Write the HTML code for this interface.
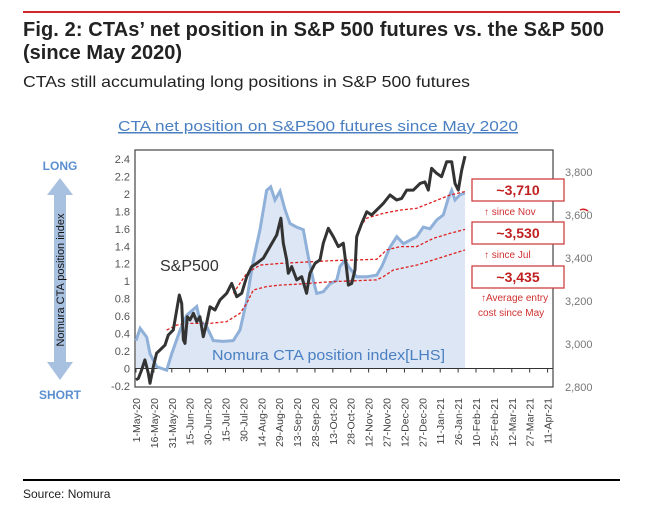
<!DOCTYPE html>
<html><head><meta charset="utf-8"><style>
body{margin:0;width:660px;height:500px;background:#fff;overflow:hidden;font-family:"Liberation Sans",sans-serif;}
</style></head><body>
<svg id="chart" width="660" height="500" xmlns="http://www.w3.org/2000/svg">
<line x1="23" y1="12" x2="620" y2="12" stroke="#d0262c" stroke-width="2"/>
<text x="23" y="36" font-size="20" font-weight="bold" fill="#222" textLength="581">Fig. 2: CTAs’ net position in S&amp;P 500 futures vs. the S&amp;P 500</text>
<text x="23" y="59" font-size="20" font-weight="bold" fill="#222">(since May 2020)</text>
<text x="23" y="87" font-size="16" fill="#222" textLength="447" lengthAdjust="spacingAndGlyphs">CTAs still accumulating long positions in S&amp;P 500 futures</text>
<text x="318" y="131" font-size="15" fill="#4a7fc1" text-anchor="middle" text-decoration="underline" textLength="400" lengthAdjust="spacingAndGlyphs">CTA net position on S&amp;P500 futures since May 2020</text>
<text x="60" y="170" font-size="12" font-weight="bold" fill="#5b8fd0" text-anchor="middle">LONG</text>
<text x="60" y="399" font-size="12" font-weight="bold" fill="#5b8fd0" text-anchor="middle">SHORT</text>
<polygon points="60,178 73,195 66,195 66,362 73,362 60,380 47,362 54,362 54,195 47,195" fill="#a9c1e0"/>
<text transform="translate(64,280) rotate(-90)" font-size="11" fill="#111" text-anchor="middle">Nomura CTA position index</text>
<line x1="23" y1="480" x2="620" y2="480" stroke="#000" stroke-width="2"/>
<text x="23" y="498" font-size="12" fill="#222">Source: Nomura</text>
<path d="M580 210 q4 -2 8 1" stroke="#d02020" stroke-width="1.5" fill="none"/>
<g id="plot"></g>
</svg>
<script>
const ctaDays=[0,3.4,9,11.7,17.4,25.7,29.9,37,42.5,50.9,53.6,59.3,64.8,73.2,81.6,87.2,92.8,98.3,103.9,109.5,112.9,116.5,120.7,124.9,129.1,134.7,140.2,144.4,148.6,151.5,157,162.6,168.2,171,175.2,178,185,193.4,201.8,206,212.9,218.6,224.1,229.7,235.3,240.8,246.4,252,257.6,261.8,264.6,267.4,271.6,275.8];
const ctaValues=[.32,.46,.36,.17,.02,-.02,.17,.44,.61,.71,.55,.48,.32,.31,.32,.44,.78,1.24,1.59,2.04,2.08,1.93,2.03,1.82,1.66,1.62,1.59,1.28,1.01,.86,.88,.97,1.01,1.17,1.24,1.17,1.05,1.05,1.07,1.17,1.39,1.51,1.43,1.47,1.51,1.62,1.60,1.70,1.76,1.95,2.04,1.93,1.99,2.01];
const spxDays=[0,2,4.7,7.5,10.3,11.7,14.5,17.3,20.1,24.3,27.1,31.3,34.1,36.3,38.3,39.7,41.1,43,45.3,48.1,50.9,53.6,56.4,59.2,62,66.2,70.4,76,80.2,84.4,88.6,92.8,97,101.1,106.7,112.3,117.9,121.5,123.5,126.3,127.7,130.5,134.7,138.9,143,145.8,150,154.2,157,161.2,165.4,169.6,173.8,176.6,178,180.8,183.6,185,189.2,193.4,197.5,201.7,207.3,212.9,218.5,222.7,226.9,232.5,238.1,242.2,245,247.8,252,256.2,260.4,264.6,267.4,270.2,273,275.8];
const spxValues=[2833,2840,2879,2926,2864,2817,2894,2957,2972,2995,3042,3065,3158,3228,3189,3019,3003,3127,3112,3143,3104,3127,3034,3096,3173,3158,3205,3236,3282,3220,3236,3313,3360,3375,3399,3453,3507,3585,3469,3391,3329,3360,3298,3313,3236,3329,3375,3391,3469,3538,3499,3453,3469,3345,3274,3282,3345,3499,3561,3615,3600,3623,3654,3693,3670,3677,3716,3716,3747,3754,3716,3817,3794,3778,3848,3848,3747,3716,3809,3874];
const costMayDays=[25.7,34.1,42.5,62,76,87.2,92.8,98.3,109.5,120.7,137.5,165.4,201.7,207.3,215.7,235.3,249.2,275.8];
const costMayValues=[3065,3088,3096,3096,3104,3143,3189,3251,3267,3274,3279,3290,3298,3313,3344,3367,3391,3437];
const costJulDays=[81.6,92.8,103.9,120.7,165.4,201.7,210.1,221.3,235.3,249.2,263.2,275.8];
const costJulValues=[3236,3329,3367,3375,3388,3394,3437,3453,3453,3491,3515,3533];
const costNovDays=[187.8,193.4,207.3,221.3,235.3,249.2,263.2,275.8];
const costNovValues=[3546,3585,3608,3623,3631,3662,3693,3709];
const leftTicks=["2.4","2.2","2","1.8","1.6","1.4","1.2","1","0.8","0.6","0.4","0.2","0","-0.2"];
const rightTicks=["3,800","3,600","3,400","3,200","3,000","2,800"];
const dateLabels=["1-May-20","16-May-20","31-May-20","15-Jun-20","30-Jun-20","15-Jul-20","30-Jul-20","14-Aug-20","29-Aug-20","13-Sep-20","28-Sep-20","13-Oct-20","28-Oct-20","12-Nov-20","27-Nov-20","12-Dec-20","27-Dec-20","11-Jan-21","26-Jan-21","10-Feb-21","25-Feb-21","12-Mar-21","27-Mar-21","11-Apr-21"];
const annotations=["~3,710","~3,530","~3,435"];

const NS="http://www.w3.org/2000/svg";
const g=document.getElementById('plot');
const X0=135,X1=553,Y0=150,Y1=387;
const xs=d=>136+d*1.193;
const yL=v=>368.5-v*87.3;
const yR=p=>387-(p-2800)*0.215;
function mk(t,a,p){const e=document.createElementNS(NS,t);for(const k in a)e.setAttribute(k,a[k]);(p||g).appendChild(e);return e;}
let pts=ctaDays.map((d,i)=>xs(d).toFixed(1)+','+yL(ctaValues[i]).toFixed(1));
let area=mk('polygon',{points:xs(ctaDays[0])+','+yL(0)+' '+pts.join(' ')+' '+xs(ctaDays[ctaDays.length-1])+','+yL(0),fill:'#dce6f4'});


let box=mk('rect',{x:X0,y:Y0,width:X1-X0,height:Y1-Y0,fill:'none',stroke:'#444','stroke-width':1.2});


let base=mk('line',{x1:X0,x2:X1,y1:yL(0),y2:yL(0),stroke:'#333','stroke-width':1});


dateLabels.forEach((l,i)=>{const x=xs(i*15);
 const t=mk('line',{x1:x,x2:x,y1:yL(0),y2:yL(0)+4,stroke:'#333'});
 
 
 const tx=mk('text',{transform:`translate(${x+4},${398}) rotate(-90)`,'text-anchor':'end','font-size':10.5,fill:'#444'});
 tx.textContent=l;
 
 
});
leftTicks.forEach(l=>{const t=mk('text',{x:130,y:yL(parseFloat(l))+4,'text-anchor':'end','font-size':11,fill:'#555'});t.textContent=l;
 
 });
rightTicks.forEach(l=>{const t=mk('text',{x:565,y:yR(parseFloat(l.replace(',','')))+4,'font-size':11,fill:'#777'});t.textContent=l;
 
 });
function line(days,vals,f,attrs,name){const p=mk('polyline',Object.assign({points:days.map((d,i)=>xs(d).toFixed(1)+','+f(vals[i]).toFixed(1)).join(' '),fill:'none'},attrs));
 
 }
line(ctaDays,ctaValues,yL,{stroke:'#8fb0d9','stroke-width':3},'cta-position-line');
line(costMayDays,costMayValues,yR,{stroke:'#e02020','stroke-width':1.3,'stroke-dasharray':'3,2'},'entry-cost-since-may');
line(costJulDays,costJulValues,yR,{stroke:'#e02020','stroke-width':1.3,'stroke-dasharray':'3,2'},'entry-cost-since-jul');
line(costNovDays,costNovValues,yR,{stroke:'#e02020','stroke-width':1.3,'stroke-dasharray':'3,2'},'entry-cost-since-nov');
line(spxDays,spxValues,yR,{stroke:'#333','stroke-width':3,'stroke-linejoin':'round'},'sp500-line');
let sl=mk('text',{x:160,y:271,'font-size':16,fill:'#333'});sl.textContent='S&P500';


let cl=mk('text',{x:212,y:360,'font-size':14.5,fill:'#4a7fc1',textLength:233,lengthAdjust:'spacingAndGlyphs'});cl.textContent='Nomura CTA position index[LHS]';


const boxYs=[180,223,267];
annotations.forEach((a,i)=>{
 const r=mk('rect',{x:472,y:boxYs[i]-1,width:92,height:22,fill:'#fff',stroke:'#d04040','stroke-width':1.3});
 
 
 const t=mk('text',{x:518,y:boxYs[i]+15,'text-anchor':'middle','font-size':14,'font-weight':'bold',fill:'#c02020'});t.textContent=a;
 
 
});
[['↑  since Nov',484,215],['↑  since Jul',484,258],['↑Average entry',481,301],['cost since May',478,316]].forEach(s=>{
 const t=mk('text',{x:s[1],y:s[2],'font-size':10,fill:'#d03030'});t.textContent=s[0];
 
 
});
</script>
</body></html>
